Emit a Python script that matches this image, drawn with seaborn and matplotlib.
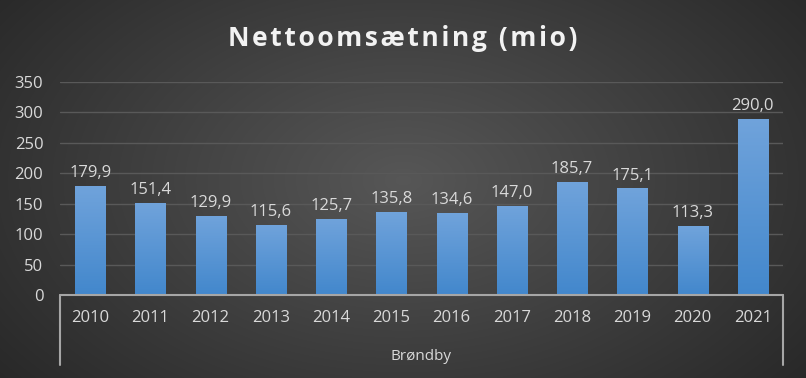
import numpy as np
import matplotlib
matplotlib.use("Agg")
import matplotlib.pyplot as plt
import seaborn as sns
from matplotlib.lines import Line2D

years = ["2010", "2011", "2012", "2013", "2014", "2015",
         "2016", "2017", "2018", "2019", "2020", "2021"]
revenue = [179.9, 151.4, 129.9, 115.6, 125.7, 135.8,
           134.6, 147.0, 185.7, 175.1, 113.3, 290.0]
group_label = "Brøndby"
title = "Nettoomsætning (mio)"

sns.set_style("dark")
plt.rcParams["font.family"] = ["Open Sans", "DejaVu Sans"]

fig = plt.figure(figsize=(8.06, 3.78), dpi=100)

# radial gradient background
bg = fig.add_axes([0, 0, 1, 1], zorder=0)
yy, xx = np.mgrid[0:378, 0:806]
r = np.sqrt(((xx - 403) / 480) ** 2 + ((yy - 180) / 300) ** 2)
shade = np.clip(0.34 - 0.17 * r, 0.15, 0.34)
bg.imshow(np.dstack([shade, shade, shade]), aspect="auto", extent=[0, 1, 0, 1])
bg.set_axis_off()

ax = fig.add_axes([60 / 806, 1 - 295 / 378, 723 / 806, 213 / 378], zorder=1)
ax.patch.set_alpha(0)
sns.barplot(x=years, y=revenue, color="#4a8fd6", width=0.5, ax=ax, zorder=3,
            linewidth=0, edgecolor="none")

# vertical gradient on each bar
grad = np.linspace(0, 1, 256).reshape(-1, 1)
top_c = np.array([0.44, 0.64, 0.86])
bot_c = np.array([0.26, 0.53, 0.80])
grad_img = (bot_c + (top_c - bot_c) * grad).reshape(256, 1, 3)
for p in ax.patches:
    x0, w, h = p.get_x(), p.get_width(), p.get_height()
    im = ax.imshow(grad_img, extent=[x0, x0 + w, 0, h], origin="lower",
                   aspect="auto", zorder=4)
    im.set_clip_path(p)

for i, v in enumerate(revenue):
    ax.text(i, v + 8, f"{v:.1f}".replace(".", ","), ha="center", va="bottom",
            color="#d9d9d9", fontsize=12, zorder=5)

ax.set_xlim(-0.5, 11.5)
ax.set_ylim(0, 350)
ax.set_yticks(range(0, 351, 50))
ax.yaxis.grid(True, color="#595959", linewidth=1, zorder=0)
ax.xaxis.grid(False)
ax.tick_params(axis="y", length=0, pad=12, labelcolor="#d9d9d9", labelsize=12)
ax.tick_params(axis="x", length=0, pad=11, labelcolor="#d9d9d9", labelsize=12)
ax.set_xlabel("")
ax.set_ylabel("")
for s in ax.spines.values():
    s.set_visible(False)

# category bracket
line_c = "#a6a6a6"
ax.add_line(Line2D([0, 1], [0, 0], transform=ax.transAxes, color=line_c,
                   lw=1.5, clip_on=False, zorder=6))
for xb in (0, 1):
    ax.add_line(Line2D([xb, xb], [0, -70 / 213], transform=ax.transAxes,
                       color=line_c, lw=1.5, clip_on=False))
ax.text(0.5, -61 / 213, group_label, transform=ax.transAxes, ha="center",
        va="center", color="#d9d9d9", fontsize=11)

fig.text(0.5, 1 - 39 / 378, "\u200a".join(title), ha="center", va="center",
         color="#f2f2f2", fontsize=19, fontweight="bold")

fig.savefig("out.png", dpi=100)
